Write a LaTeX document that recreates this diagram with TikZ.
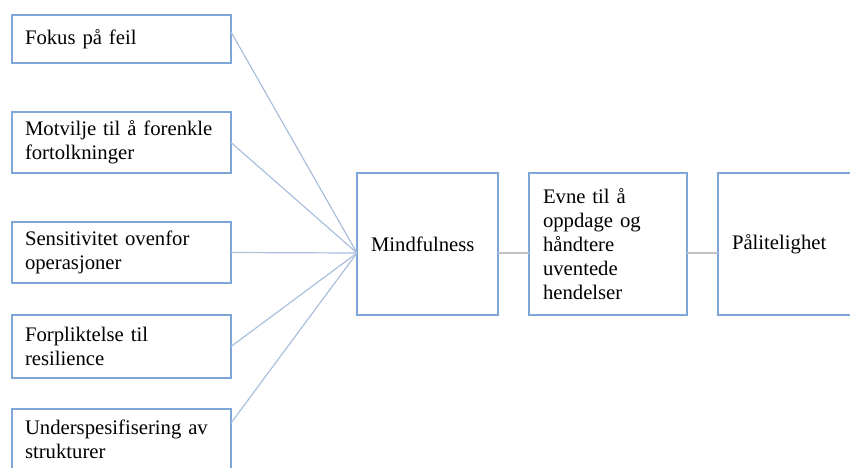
\documentclass[tikz,border=0pt]{standalone}
\usepackage{fontspec}
\setmainfont{Liberation Serif}
\definecolor{boxblue}{RGB}{126,166,216}
\definecolor{connblue}{RGB}{170,192,220}
\definecolor{conngray}{RGB}{192,192,192}
\begin{document}
\begin{tikzpicture}[x=1pt,y=-1pt,
  box/.style={draw=boxblue, line width=1.8pt, fill=white, inner xsep=13pt, inner ysep=0pt,
    outer sep=0pt, anchor=north west, align=left, text=black,
    font=\fontsize{20.7}{24}\selectfont},
  lconn/.style={draw=connblue, line width=1.2pt},
  rconn/.style={draw=conngray, line width=1.6pt}]
\useasboundingbox (0,0) rectangle (850,467);
\clip (0,0) rectangle (850,467);
\fill[white] (0,0) rectangle (850,467);
% left boxes
\node[box, text width=193pt, minimum height=48pt] (b1) at (12,15) {Fokus på feil};
\node[box, text width=193pt, minimum height=61pt] (b2) at (12,112) {Motvilje til å forenkle\\fortolkninger};
\node[box, text width=193pt, minimum height=61pt] (b3) at (12,222) {Sensitivitet ovenfor\\operasjoner};
\node[box, text width=193pt, minimum height=63pt] (b4) at (12,315) {Forpliktelse til\\resilience};
\node[box, text width=193pt, minimum height=61pt] (b5) at (12,409) {Underspesifisering av\\strukturer};
% right boxes
\node[box, inner xsep=14pt, text width=113pt, minimum height=142pt] (m) at (357,173) {Mindfulness};
\node[box, inner xsep=14pt, text width=130pt, minimum height=142pt] (e) at (529,173) {Evne til å\\oppdage og\\håndtere\\uventede\\hendelser};
\node[box, inner xsep=14pt, text width=124pt, minimum height=142pt] (p) at (718,173) {Pålitelighet};
% connectors
\coordinate (mc) at ([yshift=-9pt]m.west);
\draw[lconn] ([yshift=7pt]b1.east) -- (mc);
\draw[lconn] (b2.east) -- (mc);
\draw[lconn] (b3.east) -- (mc);
\draw[lconn] (b4.east) -- (mc);
\draw[lconn] ([yshift=16.5pt]b5.east) -- (mc);
\draw[rconn] ([yshift=-9pt]m.east) -- ([yshift=-9pt]e.west);
\draw[rconn] ([yshift=-9pt]e.east) -- ([yshift=-9pt]p.west);
\end{tikzpicture}
\end{document}
